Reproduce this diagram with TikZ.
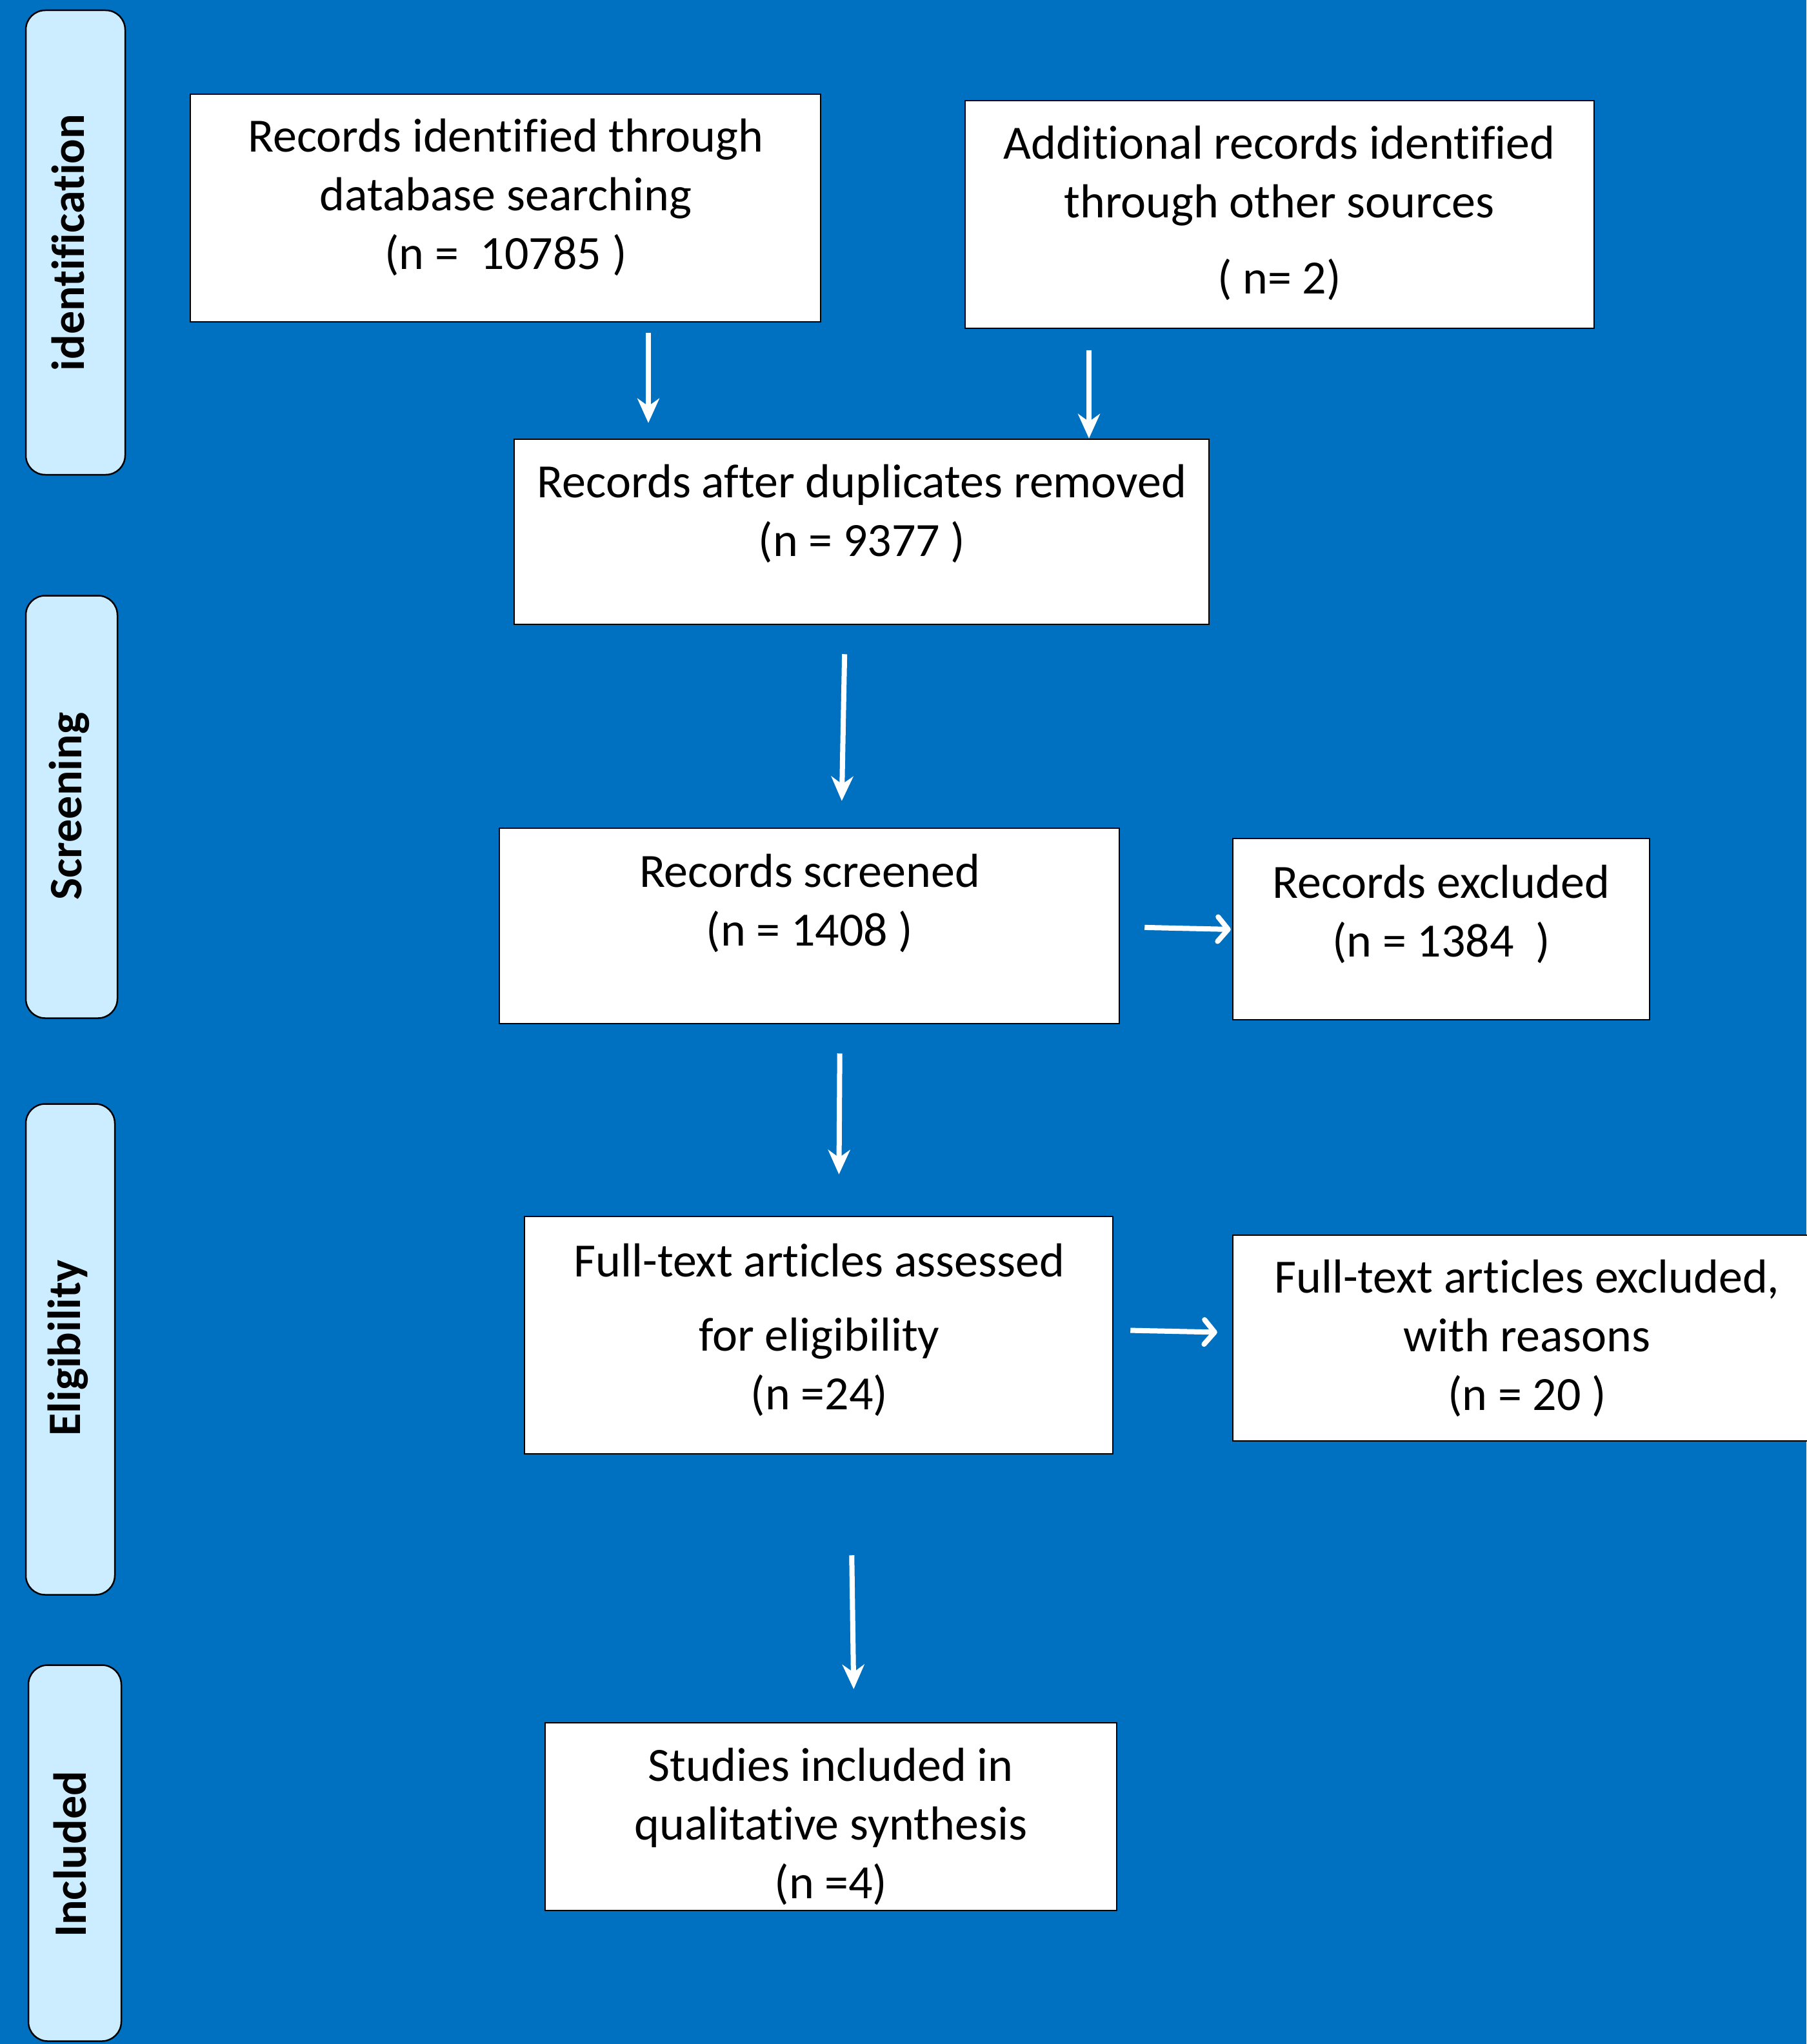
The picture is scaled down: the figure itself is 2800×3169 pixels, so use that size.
\documentclass[tikz,border=0pt]{standalone}
\usepackage{fontspec}
\setmainfont{Carlito}[Ligatures={NoCommon,NoContextual}]
\usetikzlibrary{arrows.meta}
\definecolor{bgblue}{HTML}{0070C0}
\definecolor{sidefill}{HTML}{CCECFF}
\tikzset{
  box/.style={draw=black, line width=2.5pt, fill=white, rectangle, inner sep=0pt},
  side/.style={draw=black, line width=2.5pt, fill=sidefill, rounded corners=30pt, inner sep=0pt},
  boxtext/.style={inner sep=0pt, align=center, font=\fontsize{74}{91}\selectfont, text=black},
  sidetext/.style={inner sep=0pt, rotate=90, font=\fontsize{72}{80}\selectfont\bfseries, text=black},
  varrow/.style={draw=white, line width=8pt, -{Stealth[length=38pt,width=34pt,inset=12pt]}},
  harrow/.style={draw=white, line width=8pt, -{Straight Barb[length=16pt,width=38pt,round]}}
}
\begin{document}
\begin{tikzpicture}[x=1pt,y=-1pt]
\fill[bgblue] (0,0) rectangle (2800,3169);
\useasboundingbox (0,0) rectangle (2800,3169);

% side panels
\node[side, minimum width=154pt, minimum height=720pt] (S1) at (117,376) {};
\node[side, minimum width=142pt, minimum height=655pt] (S2) at (111,1251) {};
\node[side, minimum width=138pt, minimum height=761pt] (S3) at (109,2092) {};
\node[side, minimum width=144pt, minimum height=583pt] (S4) at (116,2873) {};
\node[sidetext] (S1t) at (106,376) {identification};
\node[sidetext] (S2t) at (107,1250) {Screening};
\node[sidetext] (S3t) at (105,2090) {Eligibility};
\node[sidetext] (S4t) at (109,2875) {Included};

% main boxes
\node[box, minimum width=977pt, minimum height=353pt] (A) at (783.5,322.5) {};
\node[box, minimum width=975pt, minimum height=353pt] (B) at (1983.5,332.5) {};
\node[box, minimum width=1077pt, minimum height=287pt] (C) at (1335.5,824.5) {};
\node[box, minimum width=961pt, minimum height=303pt] (D) at (1254.5,1435.5) {};
\node[box, minimum width=646pt, minimum height=281pt] (E) at (2234,1440.5) {};
\node[box, minimum width=912pt, minimum height=368pt] (F) at (1269,2070) {};
\node[box, minimum width=920pt, minimum height=319pt] (G) at (2371,2074.5) {};
\node[box, minimum width=886pt, minimum height=291pt] (H) at (1288,2816.5) {};

% texts
\node[boxtext] (At) at (784,306) {Records identified through\\database searching\\(n =~ 10785 )};
\node[boxtext] (Bt) at (1983,330) {Additional records identified\\through other sources\\[27pt]( n= 2)};
\node[boxtext] (Ct) at (1336,796) {Records after duplicates removed\\(n = 9377 )};
\node[boxtext] (Dt) at (1255,1400) {Records screened\\(n = 1408 )};
\node[boxtext] (Et) at (2234,1417) {Records excluded\\(n = 1384~ )};
\node[boxtext] (Ft) at (1270,2062) {Full-text articles assessed\\[24pt]for eligibility\\(n =24)};
\node[boxtext] (Gt) at (2367,2075) {Full-text articles excluded,\\with reasons\\(n = 20 )};
\node[boxtext] (Ht) at (1288,2832) {Studies included in\\qualitative synthesis\\(n =4)};

% arrows
\coordinate (x1) at (1005,0);
\coordinate (x2) at (1688,0);
\coordinate (x3a) at (1310,0);
\coordinate (x3b) at (1304,0);
\coordinate (x5a) at (1302,0);
\coordinate (x5b) at (1300,0);
\coordinate (x7a) at (1318,0);
\coordinate (x7b) at (1324,0);
\coordinate (y4a) at (0,1437);
\coordinate (y4b) at (0,1441);
\coordinate (y6a) at (0,2062);
\coordinate (y6b) at (0,2066);

\draw[varrow, shorten <=16pt, shorten >=24pt] (A.south -| x1) -- (C.north -| x1);
\draw[varrow, shorten <=33pt] (B.south -| x2) -- (C.north -| x2);
\draw[varrow, shorten <=45pt, shorten >=41pt] (C.south -| x3a) -- (D.north -| x3b);
\draw[harrow, shorten <=38pt, shorten >=2pt] (D.east |- y4a) -- (E.west |- y4b);
\draw[varrow, shorten <=45pt, shorten >=64pt] (D.south -| x5a) -- (F.north -| x5b);
\draw[harrow, shorten <=26pt, shorten >=23pt] (F.east |- y6a) -- (G.west |- y6b);
\draw[varrow, shorten <=156pt, shorten >=51pt] (F.south -| x7a) -- (H.north -| x7b);
\end{tikzpicture}
\end{document}
